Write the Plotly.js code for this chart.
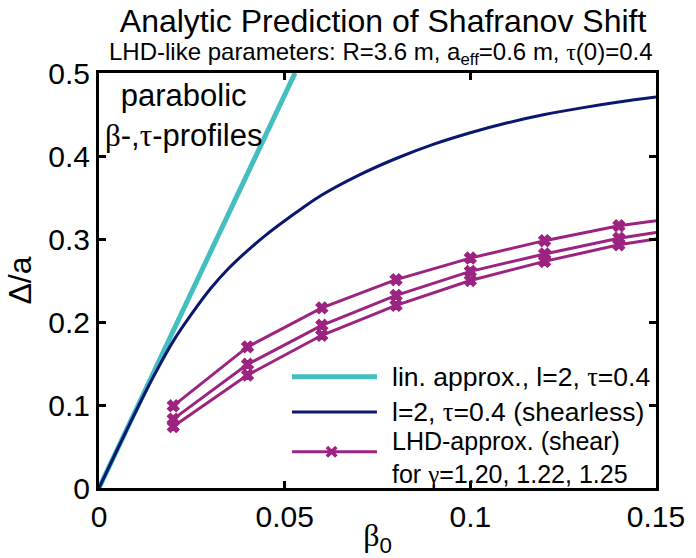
<!DOCTYPE html>
<html>
<head>
<meta charset="utf-8">
<script src="https://cdn.plot.ly/plotly-3.0.1.min.js"></script>
<style>html,body{margin:0;padding:0;background:#fff;}#chart{width:696px;height:558px;}</style>
</head>
<body>
<div id="chart"></div>
<script>
// ---- data ----
const linBeta = [0, 0.0528];
const linShift = [0, 0.5];

const shearlessBeta = [0, 0.005, 0.010, 0.015, 0.020, 0.025, 0.030, 0.035, 0.040, 0.045, 0.050, 0.055, 0.060, 0.070, 0.080, 0.090, 0.100, 0.110, 0.120, 0.130, 0.140, 0.150];
const shearlessShift = [0, 0.047, 0.093, 0.137, 0.177, 0.210, 0.240, 0.265, 0.286, 0.305, 0.322, 0.338, 0.353, 0.377, 0.397, 0.414, 0.428, 0.440, 0.450, 0.458, 0.465, 0.471];

const lhdBeta = [0.02, 0.04, 0.06, 0.08, 0.10, 0.12, 0.14, 0.15];
const lhdShiftG120 = [0.099, 0.170, 0.217, 0.251, 0.277, 0.298, 0.316, 0.322];
const lhdShiftG122 = [0.083, 0.149, 0.196, 0.232, 0.261, 0.282, 0.301, 0.308];
const lhdShiftG125 = [0.074, 0.136, 0.184, 0.220, 0.250, 0.273, 0.293, 0.300];
const lhdMarkerShown = [1, 1, 1, 1, 1, 1, 1, 0];

const xTickVals = [0, 0.05, 0.1, 0.15];
const xTickText = ['0', '0.05', '0.1', '0.15'];
const yTickVals = [0, 0.1, 0.2, 0.3, 0.4, 0.5];
const yTickText = ['0', '0.1', '0.2', '0.3', '0.4', '0.5'];

const G = s => '<span style="font-family:Liberation Serif">' + s + '</span>';
const legendLabels = [
  'lin. approx., l=2, ' + G('τ') + '=0.4',
  'l=2, ' + G('τ') + '=0.4 (shearless)',
  'LHD-approx. (shear)<br>for ' + G('γ') + '=1.20, 1.22, 1.25'
];

// ---- styles ----
const FONT = 'Liberation Sans, Arial, sans-serif';
const CYAN = '#45BEC0';
const NAVY = '#0A1770';
const MAGENTA = '#9C2480';

const lhdMarker = {
  symbol: 'x',
  size: lhdMarkerShown.map(v => v ? 10 : 0),
  color: MAGENTA,
  opacity: 1,
  line: {color: MAGENTA, width: 1.5}
};

const traces = [
  {x: linBeta, y: linShift, mode: 'lines', line: {color: CYAN, width: 5}, showlegend: false, hoverinfo: 'skip'},
  {x: shearlessBeta, y: shearlessShift, mode: 'lines', line: {color: NAVY, width: 3, shape: 'spline'}, showlegend: false},
  {x: lhdBeta, y: lhdShiftG120, mode: 'lines+markers', line: {color: MAGENTA, width: 3}, marker: lhdMarker, showlegend: false},
  {x: lhdBeta, y: lhdShiftG122, mode: 'lines+markers', line: {color: MAGENTA, width: 3}, marker: lhdMarker, showlegend: false},
  {x: lhdBeta, y: lhdShiftG125, mode: 'lines+markers', line: {color: MAGENTA, width: 3}, marker: lhdMarker, showlegend: false}
];

// manual legend geometry (paper coords)
const lgX0 = 0.3465, lgX1 = 0.499, lgTextX = 0.522;
const lgY = [0.268, 0.183, 0.0875];
const mX = 0.4176, mdx = 0.0085, mdy = 0.0115;

const shapes = [
  {type: 'line', xref: 'paper', yref: 'paper', x0: lgX0, x1: lgX1, y0: lgY[0], y1: lgY[0], line: {color: CYAN, width: 5}},
  {type: 'line', xref: 'paper', yref: 'paper', x0: lgX0, x1: lgX1, y0: lgY[1], y1: lgY[1], line: {color: NAVY, width: 3}},
  {type: 'line', xref: 'paper', yref: 'paper', x0: lgX0, x1: lgX1, y0: lgY[2], y1: lgY[2], line: {color: MAGENTA, width: 3}},
  {type: 'path', xref: 'paper', yref: 'paper',
   path: `M${mX-mdx},${lgY[2]-mdy} L${mX+mdx},${lgY[2]+mdy} M${mX-mdx},${lgY[2]+mdy} L${mX+mdx},${lgY[2]-mdy}`,
   line: {color: MAGENTA, width: 3.5}}
];

const annotations = [
  {xref: 'paper', yref: 'paper', x: 0.507, y: 1.048, xanchor: 'center', yanchor: 'middle', showarrow: false,
   text: 'LHD-like parameters: R=3.6 m, a<sub>eff</sub>=0.6 m, ' + G('τ') + '(0)=0.4',
   font: {family: FONT, size: 24, color: '#000'}},
  {xref: 'paper', yref: 'paper', x: 0.1526, y: 0.8964, xanchor: 'center', yanchor: 'middle', showarrow: false, align: 'center',
   text: 'parabolic<br>' + G('β') + '-,' + G('τ') + '-profiles',
   font: {family: FONT, size: 31, color: '#000'}},
  {xref: 'paper', yref: 'paper', x: lgTextX, y: lgY[0], xanchor: 'left', yanchor: 'middle', showarrow: false, text: legendLabels[0], font: {family: FONT, size: 26.5, color: '#000'}},
  {xref: 'paper', yref: 'paper', x: lgTextX, y: lgY[1], xanchor: 'left', yanchor: 'middle', showarrow: false, text: legendLabels[1], font: {family: FONT, size: 26.5, color: '#000'}},
  {xref: 'paper', yref: 'paper', x: lgTextX, y: 0.074, xanchor: 'left', yanchor: 'middle', showarrow: false, align: 'left', text: legendLabels[2], font: {family: FONT, size: 25, color: '#000'}}
];

const axisCommon = {
  showgrid: false, zeroline: false, showline: true, linecolor: '#000', linewidth: 3,
  mirror: 'ticks', ticks: 'inside', ticklen: 7, tickwidth: 3, tickcolor: '#000',
  tickfont: {family: FONT, size: 30, color: '#000'}, tickmode: 'array'
};

const layout = {
  width: 696, height: 558,
  margin: {l: 99, r: 40, t: 73, b: 70, pad: 0},
  paper_bgcolor: '#fff', plot_bgcolor: '#fff',
  showlegend: false,
  title: {text: 'Analytic Prediction of Shafranov Shift', font: {family: FONT, size: 32, color: '#000'},
          xref: 'paper', x: 0.51, xanchor: 'center', yref: 'container', y: 0.962, yanchor: 'middle'},
  xaxis: Object.assign({}, axisCommon, {range: [0, 0.15], tickvals: xTickVals, ticktext: xTickText,
          title: {text: G('β') + '<sub>0</sub>', font: {family: FONT, size: 32, color: '#000'}, standoff: 4}}),
  yaxis: Object.assign({}, axisCommon, {range: [0, 0.5], tickvals: yTickVals, ticktext: yTickText,
          title: {text: 'Δ/a', font: {family: FONT, size: 32, color: '#000'}, standoff: 8}}),
  shapes: shapes,
  annotations: annotations
};

Plotly.newPlot('chart', traces, layout, {displayModeBar: false, staticPlot: true});
</script>
</body>
</html>
